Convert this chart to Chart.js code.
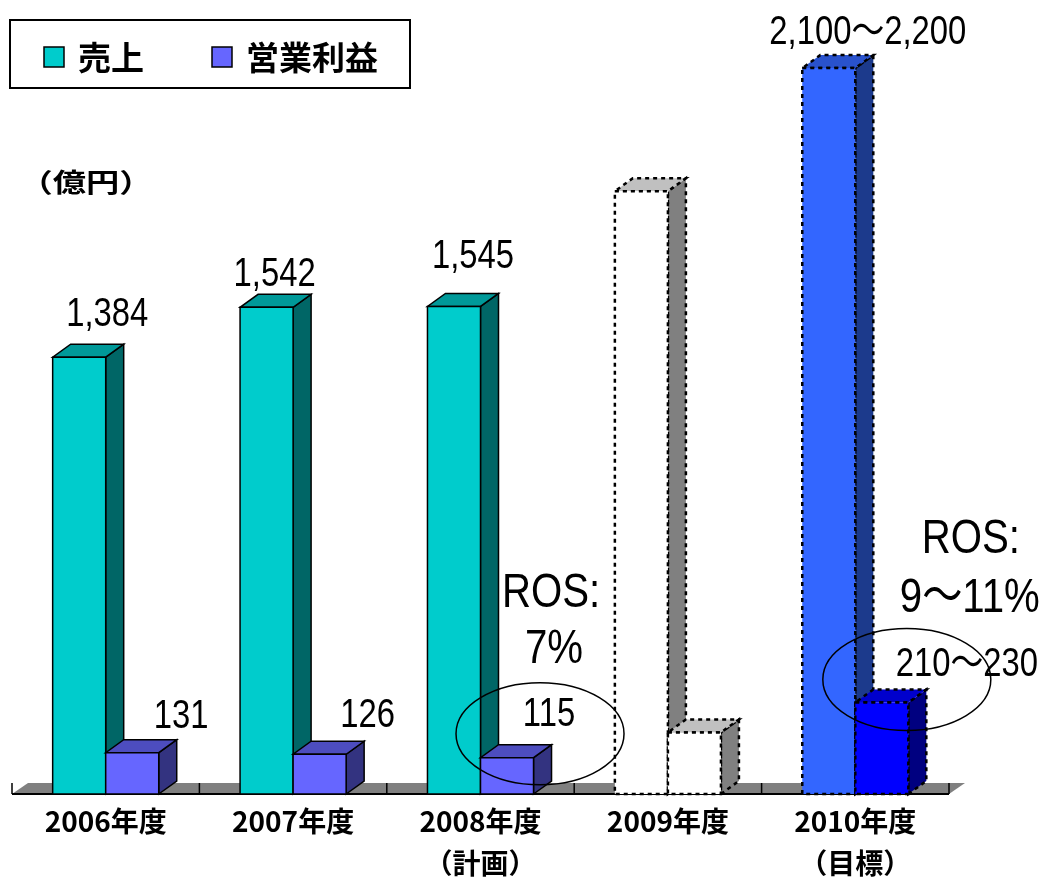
<!DOCTYPE html>
<html lang="ja">
<head>
<meta charset="utf-8">
<title>売上・営業利益</title>
<script src="https://cdn.jsdelivr.net/npm/chart.js@4.4.1/dist/chart.umd.min.js"></script>
<style>
    html, body { margin: 0; padding: 0; background: #fff; }
    #wrap { width: 1048px; height: 879px; }
</style>
</head>
<body>
<div id="wrap"><canvas id="salesChart" width="1048" height="879"></canvas></div>
<script>
// 売上・営業利益の推移 (億円)
const categories = [['2006年度'], ['2007年度'], ['2008年度', '（計画）'], ['2009年度'], ['2010年度', '（目標）']];
const salesValues = [1384, 1542, 1545, 1910, 2300];
const profitValues = [131, 126, 115, 195, 290];
const salesLabels = ['1,384', '1,542', '1,545', '', '2,100～2,200'];
const profitLabels = ['131', '126', '115', '', '210～230'];
const rosLabels = [[], [], ['ROS:', '7%'], [], ['ROS:', '9～11%']];

// 3D look
const DX = 18, DY = 13;
const TEAL = { front: '#00CCCC', top: '#009999', side: '#006666', dashed: false };
const VIOLET = { front: '#6666FF', top: '#4D4DBF', side: '#333380', dashed: false };
const BLANK = { front: '#FFFFFF', top: '#C0C0C0', side: '#808080', dashed: true };
const salesStyle = [TEAL, TEAL, TEAL, BLANK, { front: '#3366FF', top: '#2952CC', side: '#1C3A8C', dashed: true }];
const profitStyle = [VIOLET, VIOLET, VIOLET, BLANK, { front: '#0000FF', top: '#0000CC', side: '#000080', dashed: true }];

// label offsets from the top centre of the bar
const salesLabelPos = [[28, -31], [8, -21], [19, -38], [0, 0], [39, -24]];
const profitLabelPos = [[49, -25], [48, -27], [42, -32], [0, 0], [85, -26]];
const rosPos = [null, null, [[44, -151], [47, -95]], null, [[89, -149], [88, -90]]];
const ellipsePos = [null, null, [33, -24], null, [25, -23]];

function face(ctx, pts, fill) {
    ctx.beginPath();
    ctx.moveTo(pts[0][0], pts[0][1]);
    for (let i = 1; i < pts.length; i++) ctx.lineTo(pts[i][0], pts[i][1]);
    ctx.closePath();
    ctx.fillStyle = fill;
    ctx.fill();
    ctx.stroke();
}

function drawBox(ctx, bar, st) {
    const l = bar.x - bar.width / 2, r = bar.x + bar.width / 2;
    const t = bar.y, b = bar.base;
    ctx.save();
    ctx.strokeStyle = '#000';
    ctx.lineWidth = st.dashed ? 2.5 : 1.5;
    ctx.setLineDash(st.dashed ? [4, 4] : []);
    face(ctx, [[r, b], [r + DX, b - DY], [r + DX, t - DY], [r, t]], st.side);
    face(ctx, [[l, t], [r, t], [r + DX, t - DY], [l + DX, t - DY]], st.top);
    face(ctx, [[l, t], [r, t], [r, b], [l, b]], st.front);
    ctx.restore();
}

function narrowText(ctx, text, x, y, size) {
    ctx.save();
    ctx.font = size + 'px "Liberation Sans", "Noto Sans CJK JP", sans-serif';
    ctx.textAlign = 'center';
    ctx.textBaseline = 'alphabetic';
    ctx.fillStyle = '#000';
    ctx.translate(x, y);
    ctx.scale(0.82, 1);
    ctx.fillText(text, 0, 0);
    ctx.restore();
}

const boxPlugin = {
    id: 'box3d',
    afterDatasetsDraw(chart) {
        const ctx = chart.ctx;
        const area = chart.chartArea;

        // floor
        ctx.save();
        ctx.fillStyle = '#808080';
        ctx.beginPath();
        ctx.moveTo(area.left, area.bottom);
        ctx.lineTo(area.left + 16, area.bottom - 11);
        ctx.lineTo(area.right + 16, area.bottom - 11);
        ctx.lineTo(area.right, area.bottom);
        ctx.closePath();
        ctx.fill();
        ctx.strokeStyle = '#000';
        ctx.lineWidth = 1.5;
        const step = (area.right - area.left) / categories.length;
        for (let i = 0; i <= categories.length; i++) {
            const x = area.left + step * i;
            ctx.beginPath();
            ctx.moveTo(x, area.bottom - 11);
            ctx.lineTo(x, area.bottom);
            ctx.stroke();
        }
        ctx.lineWidth = 2;
        ctx.beginPath();
        ctx.moveTo(area.left, area.bottom);
        ctx.lineTo(area.right, area.bottom);
        ctx.stroke();
        ctx.restore();

        const salesBars = chart.getDatasetMeta(0).data;
        const profitBars = chart.getDatasetMeta(1).data;
        for (let i = 0; i < categories.length; i++) {
            drawBox(ctx, salesBars[i], salesStyle[i]);
            drawBox(ctx, profitBars[i], profitStyle[i]);
        }

        for (let i = 0; i < categories.length; i++) {
            const s = salesBars[i], p = profitBars[i];
            if (salesLabels[i]) {
                narrowText(ctx, salesLabels[i], s.x + salesLabelPos[i][0], s.y + salesLabelPos[i][1], 40);
            }
            if (profitLabels[i]) {
                narrowText(ctx, profitLabels[i], p.x + profitLabelPos[i][0], p.y + profitLabelPos[i][1], 40);
            }
            if (ellipsePos[i]) {
                ctx.save();
                ctx.strokeStyle = '#000';
                ctx.lineWidth = 1.5;
                ctx.beginPath();
                ctx.ellipse(p.x + ellipsePos[i][0], p.y + ellipsePos[i][1], 84, 51, 0, 0, Math.PI * 2);
                ctx.stroke();
                ctx.restore();
            }
            rosLabels[i].forEach((txt, k) => {
                narrowText(ctx, txt, p.x + rosPos[i][k][0], p.y + rosPos[i][k][1], 49);
            });
        }
    },
    afterDraw(chart) {
        const ctx = chart.ctx;
        ctx.save();
        // legend
        ctx.strokeStyle = '#000';
        ctx.lineWidth = 2;
        ctx.strokeRect(10, 20, 400, 68);
        ctx.lineWidth = 1.5;
        ctx.fillStyle = TEAL.front;
        ctx.fillRect(44, 47, 20, 20);
        ctx.strokeRect(44, 47, 20, 20);
        ctx.fillStyle = VIOLET.front;
        ctx.fillRect(212, 47, 20, 20);
        ctx.strokeRect(212, 47, 20, 20);
        ctx.fillStyle = '#000';
        ctx.font = 'bold 33px "Noto Sans CJK JP", sans-serif';
        ctx.textBaseline = 'middle';
        ctx.textAlign = 'left';
        ctx.fillText('売上', 78, 57);
        ctx.fillText('営業利益', 246, 57);

        // unit
        ctx.font = 'bold 26px "Noto Sans CJK JP", sans-serif';
        ctx.translate(86, 182);
        ctx.scale(1.28, 1);
        ctx.textAlign = 'center';
        ctx.fillText('（億円）', 0, 0);
        ctx.restore();
    }
};

new Chart(document.getElementById('salesChart'), {
    type: 'bar',
    data: {
        labels: categories,
        datasets: [{
            label: '売上',
            data: salesValues,
            backgroundColor: 'rgba(0,0,0,0)',
            borderWidth: 0
        }, {
            label: '営業利益',
            data: profitValues,
            backgroundColor: 'rgba(0,0,0,0)',
            borderWidth: 0
        }]
    },
    options: {
        responsive: false,
        animation: false,
        devicePixelRatio: 1,
        categoryPercentage: 0.566,
        barPercentage: 1.0,
        layout: { padding: { left: 12, right: 99, top: 5, bottom: 0 } },
        plugins: {
            legend: { display: false },
            tooltip: { enabled: false }
        },
        scales: {
            x: {
                grid: { display: false, drawTicks: false },
                border: { display: false },
                ticks: {
                    color: '#000',
                    padding: 6,
                    maxRotation: 0,
                    autoSkip: false,
                    font: { family: '"Noto Sans CJK JP", sans-serif', size: 28, weight: 'bold', lineHeight: 1.5 }
                },
                afterFit(scale) { scale.height = 85; }
            },
            y: {
                display: false,
                min: 0,
                max: 2500
            }
        }
    },
    plugins: [boxPlugin]
});
</script>
</body>
</html>
